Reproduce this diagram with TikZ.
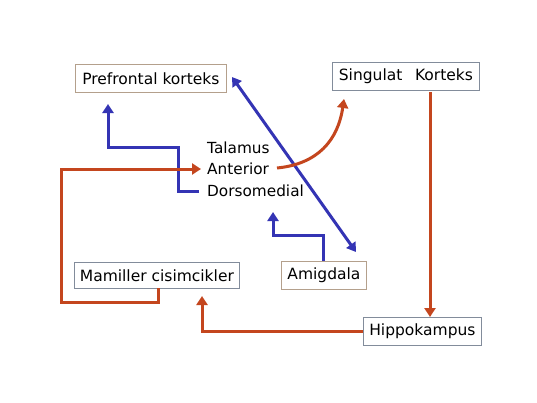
\documentclass[tikz,border=0pt]{standalone}
\usepackage{fontspec}
\setmainfont{DejaVu Sans}
\usetikzlibrary{arrows.meta}
\definecolor{rust}{RGB}{196,70,30}
\definecolor{dblue}{RGB}{52,52,180}
\definecolor{tanb}{RGB}{180,160,140}
\definecolor{grayb}{RGB}{130,140,155}
\begin{document}
\begin{tikzpicture}[x=1pt,y=-1pt,
  box/.style={draw=#1,line width=0.8pt,inner sep=0pt,font=\fontsize{15.5}{18}\selectfont,anchor=north west},
  txt/.style={inner sep=0pt,font=\fontsize{15.3}{18}\selectfont,anchor=west},
  oar/.style={draw=rust,line width=3pt,-{Triangle[length=9pt,width=11pt]}},
  bar/.style={draw=dblue,line width=3pt,-{Triangle[length=9pt,width=11pt]}},
  bbar/.style={draw=dblue,line width=3pt,{Triangle[length=9pt,width=11pt]}-{Triangle[length=9pt,width=11pt]}}]
\useasboundingbox[fill=white] (0,0) rectangle (537,402);
% boxes
\node[box=tanb,minimum width=151pt,minimum height=28pt] (pf) at (75,64) {Prefrontal korteks};
\node[box=grayb,minimum width=147pt,minimum height=28pt] (sk) at (332,62) {Singulat\hspace{0.5em} Korteks};
\node[box=grayb,minimum width=165pt,minimum height=26pt] (mc) at (74,262) {Mamiller cisimcikler};
\node[box=tanb,minimum width=85pt,minimum height=28pt] (am) at (281,261) {Amigdala};
\node[box=grayb,minimum width=118pt,minimum height=28pt] (hc) at (363,317) {Hippokampus};
% thalamus text
\node[txt] (ta) at (207,148) {Talamus};
\node[txt] (an) at (207,169) {Anterior};
\node[txt] (ds) at (207,191) {Dorsomedial};
% coordinates
\coordinate (dsl) at (199,191);
\coordinate (pfb) at (108,104);
\coordinate (anl) at (201,169);
\coordinate (anr) at (277,168);
\coordinate (skb) at (344,99);
\coordinate (dsb) at (273,212);
\coordinate (pft) at (232,77);
\coordinate (amt) at (356,252);
\coordinate (mcb) at (202,296);
\coordinate (amtop) at (323,261);
\coordinate (sktop) at (430,92);
\coordinate (hctop) at (430,317);
\coordinate (mcbot) at (158,288);
% blue arrows
\draw[bar] (dsl) -- (178,191) -- (178,147) -- (108,147) -- (pfb);
\draw[bar] (amtop) -- (323,235) -- (273,235) -- (dsb);
\draw[bbar] (pft) -- (amt);
% orange arrows
\draw[oar] (anr) .. controls (318,164) and (338,140) .. (skb);
\draw[oar] (sktop) -- (hctop);
\draw[oar] (hc.west) -- (hc.west -| mcb) -- (mcb);
\draw[oar] (mcbot) -- (158,302) -- (61,302) -- (61,169) -- (anl);
\end{tikzpicture}
\end{document}
